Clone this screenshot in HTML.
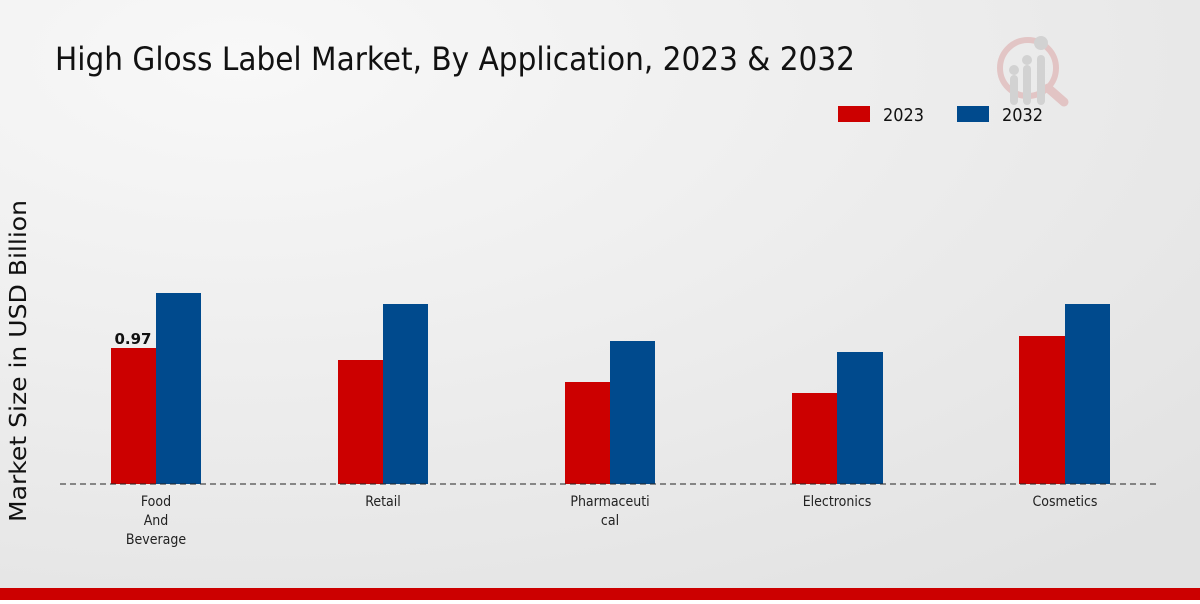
<!DOCTYPE html>
<html><head><style>
body{margin:0;width:1200px;height:600px;overflow:hidden;font-family:"DejaVu Sans","Liberation Sans",sans-serif;}
</style></head><body>
<svg width="1200" height="600" xmlns="http://www.w3.org/2000/svg">
<defs><radialGradient id="g" cx="0.2" cy="0.1" r="1.1"><stop offset="0" stop-color="#f8f8f8"/><stop offset="1" stop-color="#e2e2e2"/></radialGradient></defs>
<rect width="1200" height="600" fill="url(#g)"/>
<rect y="588" width="1200" height="12" fill="#cc0000"/>
<text x="55" y="70" font-size="32" fill="#111" font-family="DejaVu Sans Condensed,DejaVu Sans,sans-serif" textLength="800" lengthAdjust="spacingAndGlyphs">High Gloss Label Market, By Application, 2023 &amp; 2032</text>
<g opacity="0.5">
<circle cx="1028" cy="68" r="28" fill="none" stroke="#dba0a0" stroke-width="6"/>
<line x1="1048" y1="88" x2="1064" y2="102" stroke="#dba0a0" stroke-width="9" stroke-linecap="round"/>
<rect x="1010" y="75" width="8" height="30" rx="4" fill="#bbb"/>
<rect x="1023" y="65" width="8" height="40" rx="4" fill="#bbb"/>
<rect x="1037" y="55" width="8" height="50" rx="4" fill="#bbb"/>
<circle cx="1014" cy="70" r="5" fill="#bbb"/><circle cx="1027" cy="60" r="5" fill="#bbb"/><circle cx="1041" cy="43" r="7" fill="#bbb"/>
</g>
<rect x="838" y="106" width="32" height="16" fill="#cc0000"/>
<text x="883" y="121" font-size="18" fill="#111" textLength="41" lengthAdjust="spacingAndGlyphs">2023</text>
<rect x="957" y="106" width="32" height="16" fill="#004a8d"/>
<text x="1002" y="121" font-size="18" fill="#111" textLength="41" lengthAdjust="spacingAndGlyphs">2032</text>
<text transform="translate(26,361) rotate(-90)" text-anchor="middle" font-size="23" fill="#111" textLength="322" lengthAdjust="spacingAndGlyphs">Market Size in USD Billion</text>
<g fill="#cc0000">
<rect x="111" y="348" width="45" height="136"/><rect x="338" y="360" width="45" height="124"/><rect x="565" y="382" width="45" height="102"/><rect x="792" y="393" width="45" height="91"/><rect x="1019" y="336" width="46" height="148"/>
</g>
<g fill="#004a8d">
<rect x="156" y="293" width="45" height="191"/><rect x="383" y="304" width="45" height="180"/><rect x="610" y="341" width="45" height="143"/><rect x="837" y="352" width="46" height="132"/><rect x="1065" y="304" width="45" height="180"/>
</g>
<line x1="60" y1="484" x2="1160" y2="484" stroke="#222" stroke-dasharray="6,4"/>
<text x="133" y="344" text-anchor="middle" font-size="15" font-weight="bold" fill="#111">0.97</text>
<g font-size="14" fill="#222" text-anchor="middle" font-family="DejaVu Sans Condensed,DejaVu Sans,sans-serif">
<text x="156" y="506">Food</text><text x="156" y="525">And</text><text x="156" y="544">Beverage</text>
<text x="383" y="506">Retail</text>
<text x="610" y="506">Pharmaceuti</text><text x="610" y="525">cal</text>
<text x="837" y="506">Electronics</text>
<text x="1065" y="506">Cosmetics</text>
</g>
</svg>
</body></html>
